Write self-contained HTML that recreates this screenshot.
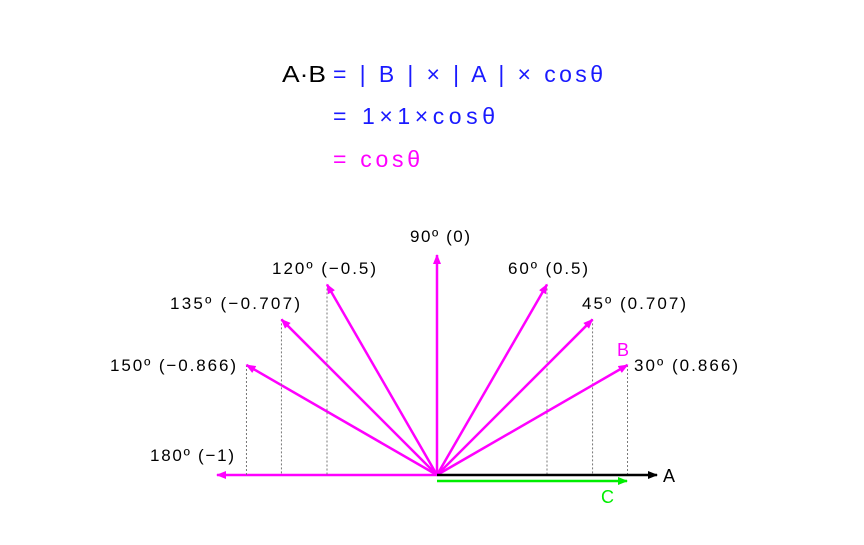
<!DOCTYPE html>
<html><head><meta charset="utf-8"><style>
body{margin:0;background:#fff}
svg text{font-family:"Liberation Sans","Noto Sans CJK KR",sans-serif}
</style></head><body>
<svg width="864" height="540">
<defs>
<marker id="mm" markerWidth="10" markerHeight="8" refX="9" refY="4" orient="auto" markerUnits="userSpaceOnUse"><path d="M0,0L10,4L0,8z" fill="#ff00ff"/></marker>
<marker id="mk" markerWidth="10" markerHeight="8" refX="9" refY="4" orient="auto" markerUnits="userSpaceOnUse"><path d="M0,0L10,4L0,8z" fill="#000"/></marker>
<marker id="mg" markerWidth="10" markerHeight="8" refX="9" refY="4" orient="auto" markerUnits="userSpaceOnUse"><path d="M0,0L10,4L0,8z" fill="#00ee00"/></marker>
</defs>
<g font-size="23">
<text x="282" y="82" fill="#000" textLength="44" lengthAdjust="spacingAndGlyphs">A·B</text>
<text x="333" y="82" fill="#1a1aff" textLength="270">= | B | × | A | × cosθ</text>
<text x="333" y="124" fill="#1a1aff" textLength="162">= 1×1×cosθ</text>
<text x="333" y="167" fill="#ff00ff" textLength="87">= cosθ</text>
</g>
<g id="vecs"></g>
<line x1="437" y1="475" x2="657" y2="475" stroke="#000" stroke-width="2.5" marker-end="url(#mk)"/>
<line x1="437" y1="481" x2="627" y2="481" stroke="#00ee00" stroke-width="2.5" marker-end="url(#mg)"/>
<g font-size="18">
<text x="663" y="482" fill="#000">A</text>
<text x="601" y="503" fill="#00ee00">C</text>
<text x="617" y="356" fill="#ff00ff">B</text>
</g>
<g id="labels" font-size="17" fill="#000"></g>
</svg>
<script>
const angles=[180,150,135,120,90,60,45,30];
const cosLabels=["-1","-0.866","-0.707","-0.5","0","0.5","0.707","0.866"];
const ox=437,oy=475,R=220;
const NS="http://www.w3.org/2000/svg";
const g=document.getElementById('vecs'),lg=document.getElementById('labels');
const lblPos={180:[192,461,84],150:[173,371,126],135:[235,309,130],120:[324,274,104],90:[440,242,60],60:[548,274,80],45:[634,309,104],30:[686,371,104]};
angles.forEach((a,i)=>{
 const r=a*Math.PI/180,x=ox+R*Math.cos(r),y=oy-R*Math.sin(r);
 if(a!==90&&a!==180){
  const d=document.createElementNS(NS,'line');
  
  
  d.setAttribute('x1',x);d.setAttribute('y1',y);d.setAttribute('x2',x);d.setAttribute('y2',oy);
  d.setAttribute('stroke','#777');d.setAttribute('stroke-width','1');d.setAttribute('stroke-dasharray','2,2');
  g.appendChild(d);
 }
 const l=document.createElementNS(NS,'line');
 
 
 l.setAttribute('x1',ox);l.setAttribute('y1',oy);l.setAttribute('x2',x);l.setAttribute('y2',y);
 l.setAttribute('stroke','#ff00ff');l.setAttribute('stroke-width','2.5');l.setAttribute('marker-end','url(#mm)');
 g.appendChild(l);
 const p=lblPos[a],t=document.createElementNS(NS,'text');
 
 
 t.setAttribute('x',p[0]-p[2]/2);t.setAttribute('y',p[1]);t.setAttribute('textLength',p[2]);
 t.textContent=a+'º ('+cosLabels[i].replace('-','−')+')';
 lg.appendChild(t);
});
</script>
</body></html>
